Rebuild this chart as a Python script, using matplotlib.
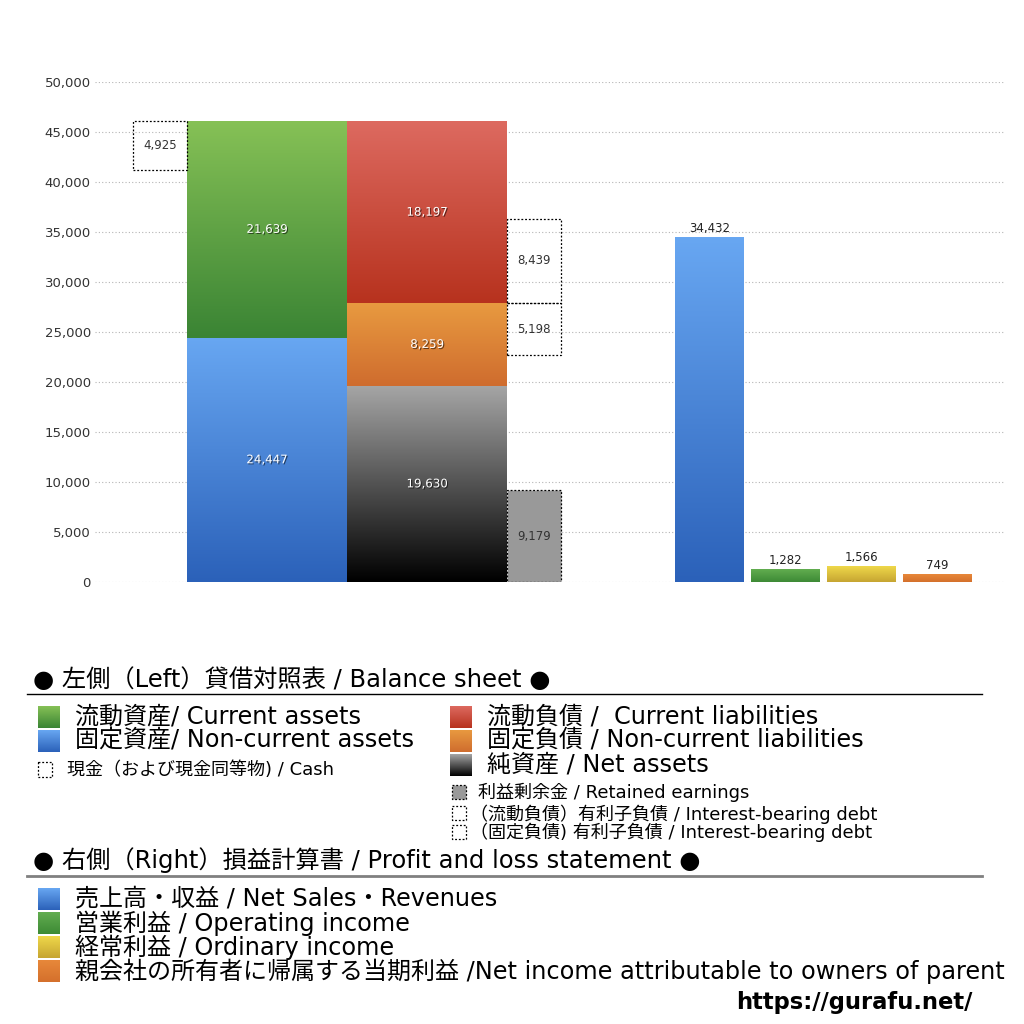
import matplotlib
matplotlib.use('Agg')
import matplotlib.pyplot as plt
import matplotlib.patheffects as pe
from matplotlib.patches import Rectangle
from matplotlib.colors import to_rgb
import numpy as np

plt.rcParams['font.family'] = ['DejaVu Sans', 'Noto Sans CJK JP']

# ---------------- data ----------------
current_assets = 21639
noncurrent_assets = 24447
cash = 4925
current_liabilities = 18197
noncurrent_liabilities = 8259
net_assets = 19630
retained_earnings = 9179
ibd_current = 8439
ibd_noncurrent = 5198

pl_labels = ['売上高・収益', '営業利益', '経常利益', '当期利益']
pl_values = [34432, 1282, 1566, 749]

yticks = list(range(0, 50001, 5000))

# ---------------- colours ----------------
C_GREEN = ('#86c156', '#3a8434')
C_BLUE = ('#68a7f2', '#2b61b9')
C_RED = ('#dd6a60', '#b7321e')
C_ORANGE = ('#e89a40', '#cf6c2e')
C_BLACK = ('#a6a6a6', '#000000')
C_PL_GREEN = ('#62ad50', '#3d8a35')
C_PL_YELLOW = ('#efd84a', '#c6a532')
C_PL_ORANGE = ('#e8883a', '#d4702c')
GRAY_RE = '#999999'

fig = plt.figure(figsize=(10.24, 10.24), dpi=100)
ax = fig.add_axes([95 / 1024, 442 / 1024, 910 / 1024, 500 / 1024])


def grad_fill(a, x0, x1, y0, y1, top, bot, z=3):
    c1 = np.array(to_rgb(top))
    c2 = np.array(to_rgb(bot))
    t = np.linspace(0, 1, 256)[:, None]
    img = (c1 * (1 - t) + c2 * t)[:, None, :]
    a.imshow(img, extent=(x0, x1, y0, y1), origin='upper', aspect='auto',
             zorder=z, interpolation='bilinear')


def gbar(x, w, h, b, cols):
    r = ax.bar(x, h, width=w, bottom=b, align='edge', color=cols[1],
               linewidth=0, zorder=2)[0]
    grad_fill(ax, r.get_x(), r.get_x() + r.get_width(), r.get_y(),
              r.get_y() + r.get_height(), cols[0], cols[1])
    return r


shadow = [pe.withSimplePatchShadow(offset=(0.8, -0.8), shadow_rgbFace='black', alpha=0.55)]
VFS = 8.5


def inner_label(r, v):
    ax.text(r.get_x() + r.get_width() / 2, r.get_y() + r.get_height() / 2,
            f'{v:,}', ha='center', va='center', color='white', fontsize=VFS,
            zorder=6, path_effects=shadow)


def box_label(r, v):
    ax.text(r.get_x() + r.get_width() / 2, r.get_y() + r.get_height() / 2,
            f'{v:,}', ha='center', va='center', color='#333333', fontsize=VFS,
            zorder=6)


DOT = (0, (1.5, 1.5))

# layout positions (in axis layout units)
X_CASH, W_SMALL = 133, 54
X_ASSET, X_LIAB, W_BS = 187, 347, 160
X_BOX = 507
X_PL = [675, 751, 827, 903]
W_PL = 69

total_assets = noncurrent_assets + current_assets

# assets column
r = gbar(X_ASSET, W_BS, noncurrent_assets, 0, C_BLUE); inner_label(r, noncurrent_assets)
r = gbar(X_ASSET, W_BS, current_assets, noncurrent_assets, C_GREEN); inner_label(r, current_assets)
# cash box
r = ax.bar(X_CASH, cash, width=W_SMALL, bottom=total_assets - cash, align='edge',
           fill=False, edgecolor='black', linestyle=DOT, linewidth=0.9, zorder=4)[0]
box_label(r, cash)

# liabilities / net assets column
r = gbar(X_LIAB, W_BS, net_assets, 0, C_BLACK); inner_label(r, net_assets)
r = gbar(X_LIAB, W_BS, noncurrent_liabilities, net_assets, C_ORANGE); inner_label(r, noncurrent_liabilities)
liab_base = net_assets + noncurrent_liabilities
r = gbar(X_LIAB, W_BS, current_liabilities, liab_base, C_RED); inner_label(r, current_liabilities)

# retained earnings
r = ax.bar(X_BOX, retained_earnings, width=W_SMALL, bottom=0, align='edge',
           color=GRAY_RE, edgecolor='black', linestyle=DOT, linewidth=0.9, zorder=4)[0]
box_label(r, retained_earnings)
# interest bearing debts
r = ax.bar(X_BOX, ibd_current, width=W_SMALL, bottom=liab_base, align='edge',
           fill=False, edgecolor='black', linestyle=DOT, linewidth=0.9, zorder=4)[0]
box_label(r, ibd_current)
r = ax.bar(X_BOX, ibd_noncurrent, width=W_SMALL, bottom=liab_base - ibd_noncurrent, align='edge',
           fill=False, edgecolor='black', linestyle=DOT, linewidth=0.9, zorder=4)[0]
box_label(r, ibd_noncurrent)

# P&L bars
pl_cols = [C_BLUE, C_PL_GREEN, C_PL_YELLOW, C_PL_ORANGE]
for x, v, c in zip(X_PL, pl_values, pl_cols):
    r = gbar(x, W_PL, v, 0, c)
    ax.text(r.get_x() + r.get_width() / 2, v + 250, f'{v:,}', ha='center', va='bottom',
            color='#222222', fontsize=8.5, zorder=6)

ax.set_xlim(95, 1005)
ax.set_ylim(0, 50000)
ax.set_yticks(yticks)
ax.set_yticklabels([f'{t:,}' for t in yticks], fontsize=9.5, color='#333333')
ax.tick_params(axis='y', length=0, pad=3)
ax.set_xticks([])
for s in ax.spines.values():
    s.set_visible(False)
ax.set_axisbelow(True)
ax.yaxis.grid(True, linestyle=(0, (1, 2)), color='#b5b5b5', linewidth=0.8)
ax.set_facecolor('none')

# ---------------- legend (drawn in pixel layout) ----------------
lax = fig.add_axes([0, 0, 1, 1])
lax.set_xlim(0, 1024)
lax.set_ylim(1024, 0)
lax.axis('off')


def swatch(x, y, cols, s=22):
    grad_fill(lax, x, x + s, y + s, y, cols[0], cols[1])


def txt(x, y, s, fs, **kw):
    lax.text(x, y, s, fontsize=fs, va='center', ha='left', color='black', **kw)


TFS = 17.5
LFS = 17.3
SFS = 13

txt(33, 680, '● 左側（Left）貸借対照表 / Balance sheet ●', TFS)
lax.plot([27, 982], [694, 694], color='black', lw=1)

swatch(38, 706, C_GREEN); txt(75, 717, '流動資産/ Current assets', LFS)
swatch(38, 730, C_BLUE); txt(75, 741, '固定資産/ Non-current assets', LFS)
lax.add_patch(Rectangle((38, 762), 14, 15, fill=False, edgecolor='black', linestyle=DOT, lw=0.9))
txt(67, 770, '現金（および現金同等物) / Cash', SFS)

swatch(450, 706, C_RED); txt(487, 717, '流動負債 /  Current liabilities', LFS)
swatch(450, 730, C_ORANGE); txt(487, 741, '固定負債 / Non-current liabilities', LFS)
swatch(450, 754, C_BLACK); txt(487, 765, '純資産 / Net assets', LFS)
lax.add_patch(Rectangle((452, 785), 14, 14, facecolor=GRAY_RE, edgecolor='black', linestyle=DOT, lw=0.9))
txt(478, 792, '利益剰余金 / Retained earnings', SFS)
lax.add_patch(Rectangle((452, 806), 14, 14, fill=False, edgecolor='black', linestyle=DOT, lw=0.9))
txt(470, 814, '（流動負債）有利子負債 / Interest-bearing debt', SFS)
lax.add_patch(Rectangle((452, 825), 14, 14, fill=False, edgecolor='black', linestyle=DOT, lw=0.9))
txt(470, 832, '（固定負債) 有利子負債 / Interest-bearing debt', SFS)

txt(33, 860, '● 右側（Right）損益計算書 / Profit and loss statement ●', TFS)
lax.plot([27, 982], [876, 876], color='#808080', lw=2)

swatch(38, 888, C_BLUE); txt(75, 899, '売上高・収益 / Net Sales・Revenues', LFS)
swatch(38, 912, C_PL_GREEN); txt(75, 923, '営業利益 / Operating income', LFS)
swatch(38, 936, C_PL_YELLOW); txt(75, 947, '経常利益 / Ordinary income', LFS)
swatch(38, 960, C_PL_ORANGE); txt(75, 971, '親会社の所有者に帰属する当期利益 /Net income attributable to owners of parent', LFS)

lax.text(972, 1002, 'https://gurafu.net/', fontsize=16.3, fontweight='bold', ha='right', va='center')

lax.set_xlim(0, 1024)
lax.set_ylim(1024, 0)

fig.savefig('out.png', dpi=100)
